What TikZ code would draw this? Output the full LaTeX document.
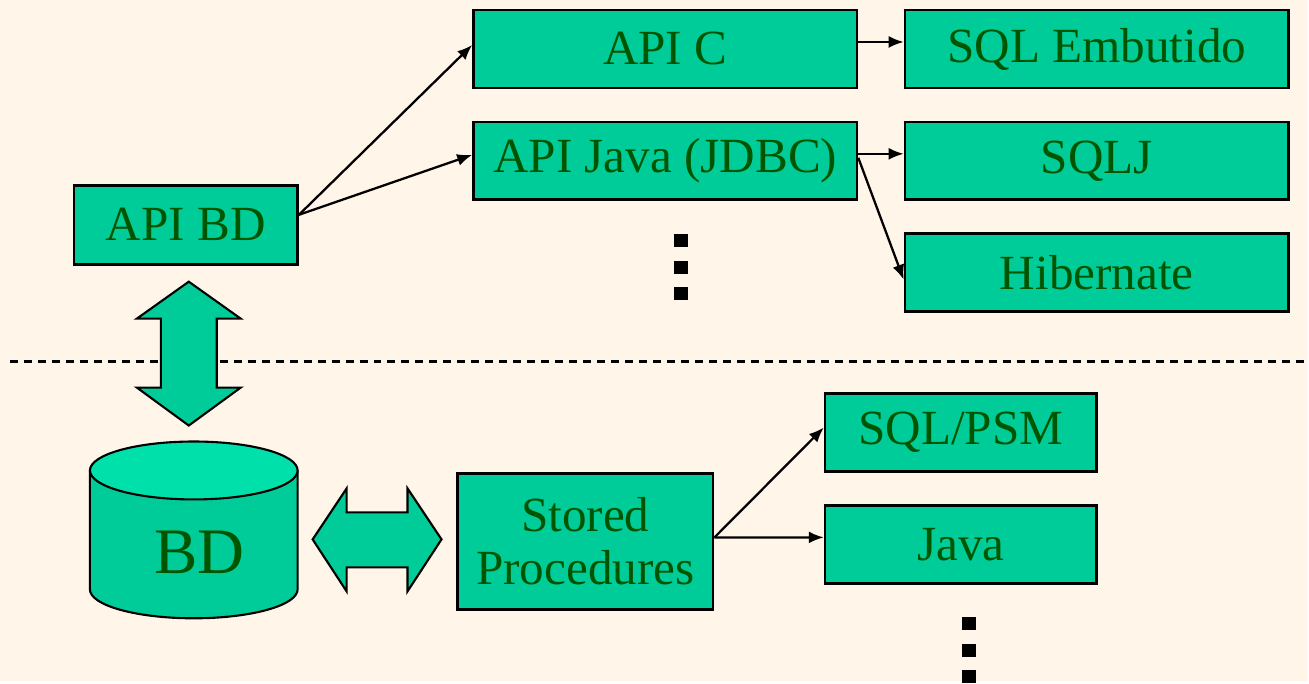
\documentclass[tikz,border=0pt]{standalone}
\usepackage{fontspec}
\setmainfont{Liberation Serif}
\usetikzlibrary{arrows.meta,positioning}
\definecolor{fundo}{RGB}{255,245,233}
\definecolor{verdecx}{RGB}{0,204,153}
\definecolor{verdetopo}{RGB}{0,224,170}
\definecolor{verdetxt}{RGB}{0,85,0}
\tikzset{
  caixa/.style={draw, fill=verdecx, line width=1.5pt, inner sep=0pt,
    minimum height=1.56cm, text=verdetxt, align=center,
    font=\fontsize{28}{30}\selectfont},
  seta/.style={-{Latex[length=0.3cm,width=0.24cm]}, line width=1.3pt},
  setagorda/.style={draw, fill=verdecx, line width=1.2pt, line join=miter}
}
\begin{document}
\begin{tikzpicture}[x=0.02cm,y=-0.02cm]
\fill[fundo] (0,0) rectangle (1309,682);
% separador
\draw[line width=1.7pt, dash pattern=on 0.16cm off 0.12cm] (10,362) -- (1309,362);
% caixas de cima
\node[caixa, minimum width=4.48cm, minimum height=1.58cm] (apibd) at (186,225) {API BD};
\node[caixa, minimum width=7.68cm] (apic) at (666,49) {API C};
\node[caixa, minimum width=7.68cm] (apijava) at (666,161) {API Java (JDBC)};
\node[caixa, minimum width=7.68cm] (sqlemb) at (1098,49) {SQL Embutido};
\node[caixa, minimum width=7.68cm] (sqlj) at (1098,161) {SQLJ};
\node[caixa, minimum width=7.68cm] (hib) at (1098,273) {Hibernate};
% caixas de baixo
\node[caixa, minimum width=5.12cm, minimum height=2.72cm] (sp) at (586,542) {Stored\\Procedures};
\node[caixa, minimum width=5.44cm] (psm) at (962,433) {SQL/PSM};
\node[caixa, minimum width=5.44cm] (java) at (962,545) {Java};
% ligacoes
\draw[seta] ([yshift=0.2cm]apibd.east) -- ([yshift=0.08cm]apic.west);
\draw[seta] ([yshift=0.2cm]apibd.east) -- ([yshift=0.12cm]apijava.west);
\draw[seta] ([yshift=0.14cm]apic.east) -- ([yshift=0.14cm]sqlemb.west);
\draw[seta] ([yshift=0.14cm]apijava.east) -- ([yshift=0.14cm]sqlj.west);
\draw[seta] ([yshift=0.06cm]apijava.east) -- ([yshift=-0.14cm]hib.west);
\draw[seta] ([yshift=0.08cm]sp.east) -- ([yshift=0.1cm]psm.west);
\draw[seta] ([yshift=0.08cm]sp.east) -- ([yshift=0.14cm]java.west);
% setas grossas
\draw[setagorda] (189,282) -- (241,319) -- (217,319) -- (217,388) -- (241,388) -- (189,426)
  -- (137,388) -- (161,388) -- (161,319) -- (137,319) -- cycle;
\draw[setagorda] (313,540) -- (347,489) -- (347,513) -- (408,513) -- (408,489) -- (442,540)
  -- (408,592) -- (408,568) -- (347,568) -- (347,592) -- cycle;
% cilindro
\draw[fill=verdecx, line width=1.2pt] (90,471) -- (90,590)
  arc[start angle=180, end angle=360, x radius=2.08cm, y radius=0.58cm] -- (298,471);
\draw[fill=verdetopo, line width=1.2pt] (194,471) ellipse [x radius=2.08cm, y radius=0.58cm];
\node[text=verdetxt, font=\fontsize{37}{40}\selectfont] (bd) at (200,553) {BD};
% reticencias
\foreach \y in {234,261,287} {
  \fill (675,\y) rectangle (689,\y+13);
  \fill (963,\y+384) rectangle (977,\y+397);
}
\end{tikzpicture}
\end{document}
